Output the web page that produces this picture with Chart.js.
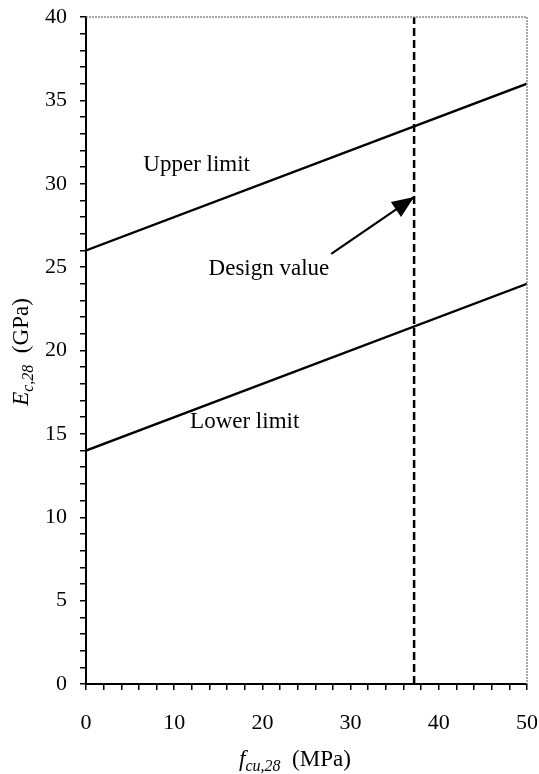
<!DOCTYPE html>
<html>
<head>
<meta charset="utf-8">
<script src="https://cdn.jsdelivr.net/npm/chart.js@4.4.0/dist/chart.umd.min.js"></script>
<style>
  body { margin: 0; background: #fff; }
  canvas { display: block; }
</style>
</head>
<body>
<canvas id="modulusChart" width="539" height="774"></canvas>
<script>
// data
const fcu = [0, 50];                 // MPa
const upperLimit = [26, 36];         // GPa
const lowerLimit = [14, 24];         // GPa
const designFcu = 37.2;              // MPa, dashed line
const designSpan = [0, 40];
const arrowFcu = [27.8, 37.2];
const arrowEc = [25.8, 29.2];
const labelTexts = ['Upper limit', 'Design value', 'Lower limit'];
const labelFcu = [6.5, 13.9, 11.8];
const labelEc = [31.1, 24.9, 15.7];

const serif = "'Liberation Serif', 'DejaVu Serif', serif";

function toPoints(xs, ys){
    let pts = [];
    for(let i = 0; i < xs.length; i++){
        pts.push({x: xs[i], y: ys[i]});
    }
    return pts;
}

// arrow head, labels, axis titles, top/right frame
const extrasPlugin = {
    id: 'extras',
    afterDraw(chart){
        const ctx = chart.ctx;
        const xs = chart.scales.x;
        const ys = chart.scales.y;
        const area = chart.chartArea;

        // dotted grey frame on top and right
        ctx.save();
        ctx.strokeStyle = '#8a8a8a';
        ctx.lineWidth = 1.5;
        ctx.setLineDash([2, 1]);
        ctx.beginPath();
        ctx.moveTo(area.left, area.top);
        ctx.lineTo(area.right, area.top);
        ctx.lineTo(area.right, area.bottom);
        ctx.stroke();
        ctx.restore();

        // arrow head
        const x0 = xs.getPixelForValue(arrowFcu[0]);
        const y0 = ys.getPixelForValue(arrowEc[0]);
        const x1 = xs.getPixelForValue(arrowFcu[1]);
        const y1 = ys.getPixelForValue(arrowEc[1]);
        const ang = Math.atan2(y1 - y0, x1 - x0);
        const len = 22, half = 9;
        ctx.save();
        ctx.fillStyle = '#000';
        ctx.beginPath();
        ctx.moveTo(x1, y1);
        ctx.lineTo(x1 - len * Math.cos(ang) + half * Math.sin(ang), y1 - len * Math.sin(ang) - half * Math.cos(ang));
        ctx.lineTo(x1 - len * Math.cos(ang) - half * Math.sin(ang), y1 - len * Math.sin(ang) + half * Math.cos(ang));
        ctx.closePath();
        ctx.fill();
        ctx.restore();

        // text labels
        ctx.save();
        ctx.fillStyle = '#000';
        ctx.font = '23px ' + serif;
        ctx.textAlign = 'left';
        ctx.textBaseline = 'middle';
        for(let i = 0; i < labelTexts.length; i++){
            ctx.fillText(labelTexts[i], xs.getPixelForValue(labelFcu[i]), ys.getPixelForValue(labelEc[i]));
        }
        ctx.restore();

        // axis titles with subscripts
        drawTitle(ctx, [
            {t: 'f', font: 'italic 23px ' + serif, dy: 0},
            {t: 'cu,28', font: 'italic 16px ' + serif, dy: 5},
            {t: '  (MPa)', font: '23px ' + serif, dy: 0}
        ], 295, 766, 0);
        drawTitle(ctx, [
            {t: 'E', font: 'italic 23px ' + serif, dy: 0},
            {t: 'c,28', font: 'italic 16px ' + serif, dy: 5},
            {t: '  (GPa)', font: '23px ' + serif, dy: 0}
        ], 28, 352, -Math.PI / 2);
    }
};

function drawTitle(ctx, parts, cx, cy, rot){
    ctx.save();
    ctx.translate(cx, cy);
    ctx.rotate(rot);
    ctx.fillStyle = '#000';
    ctx.textBaseline = 'alphabetic';
    let total = 0;
    for(const p of parts){
        ctx.font = p.font;
        total += ctx.measureText(p.t).width;
    }
    let x = -total / 2;
    for(const p of parts){
        ctx.font = p.font;
        ctx.fillText(p.t, x, p.dy);
        x += ctx.measureText(p.t).width;
    }
    ctx.restore();
}

const lineStyle = {
    showLine: true,
    borderColor: '#000',
    pointRadius: 0,
    fill: false
};

new Chart(document.getElementById('modulusChart'), {
    type: 'scatter',
    data: {
        datasets: [
            Object.assign({label: 'Upper limit', data: toPoints(fcu, upperLimit), borderWidth: 2.4}, lineStyle),
            Object.assign({label: 'Lower limit', data: toPoints(fcu, lowerLimit), borderWidth: 2.4}, lineStyle),
            Object.assign({label: 'Design value', data: toPoints([designFcu, designFcu], designSpan), borderWidth: 2.5, borderDash: [8, 4]}, lineStyle),
            Object.assign({label: 'arrow', data: toPoints(arrowFcu, arrowEc), borderWidth: 2.2}, lineStyle)
        ]
    },
    options: {
        responsive: false,
        animation: false,
        layout: { padding: { left: 0, top: 17, right: 12, bottom: 0 } },
        plugins: {
            legend: { display: false },
            tooltip: { enabled: false }
        },
        scales: {
            x: {
                type: 'linear',
                min: 0,
                max: 50,
                afterFit: function(scale){
                    scale.height = 90;
                    scale.paddingLeft = 0;
                    scale.paddingRight = 0;
                },
                border: { display: true, color: '#000', width: 2 },
                grid: { drawOnChartArea: false, drawTicks: true, tickLength: 6, color: '#000', lineWidth: 1.5 },
                ticks: {
                    stepSize: 2,
                    autoSkip: false,
                    maxRotation: 0,
                    padding: 20,
                    color: '#000',
                    font: { family: serif, size: 22 },
                    callback: function(v){ return v % 10 === 0 ? v : ''; }
                }
            },
            y: {
                type: 'linear',
                min: 0,
                max: 40,
                afterFit: function(scale){
                    scale.width = 86;
                    scale.paddingTop = 0;
                    scale.paddingBottom = 0;
                },
                border: { display: true, color: '#000', width: 2 },
                grid: { drawOnChartArea: false, drawTicks: true, tickLength: 6, color: '#000', lineWidth: 1.5 },
                ticks: {
                    stepSize: 1,
                    autoSkip: false,
                    padding: 13,
                    color: '#000',
                    font: { family: serif, size: 22 },
                    callback: function(v){ return v % 5 === 0 ? v : ''; }
                }
            }
        }
    },
    plugins: [extrasPlugin]
});
</script>
</body>
</html>
